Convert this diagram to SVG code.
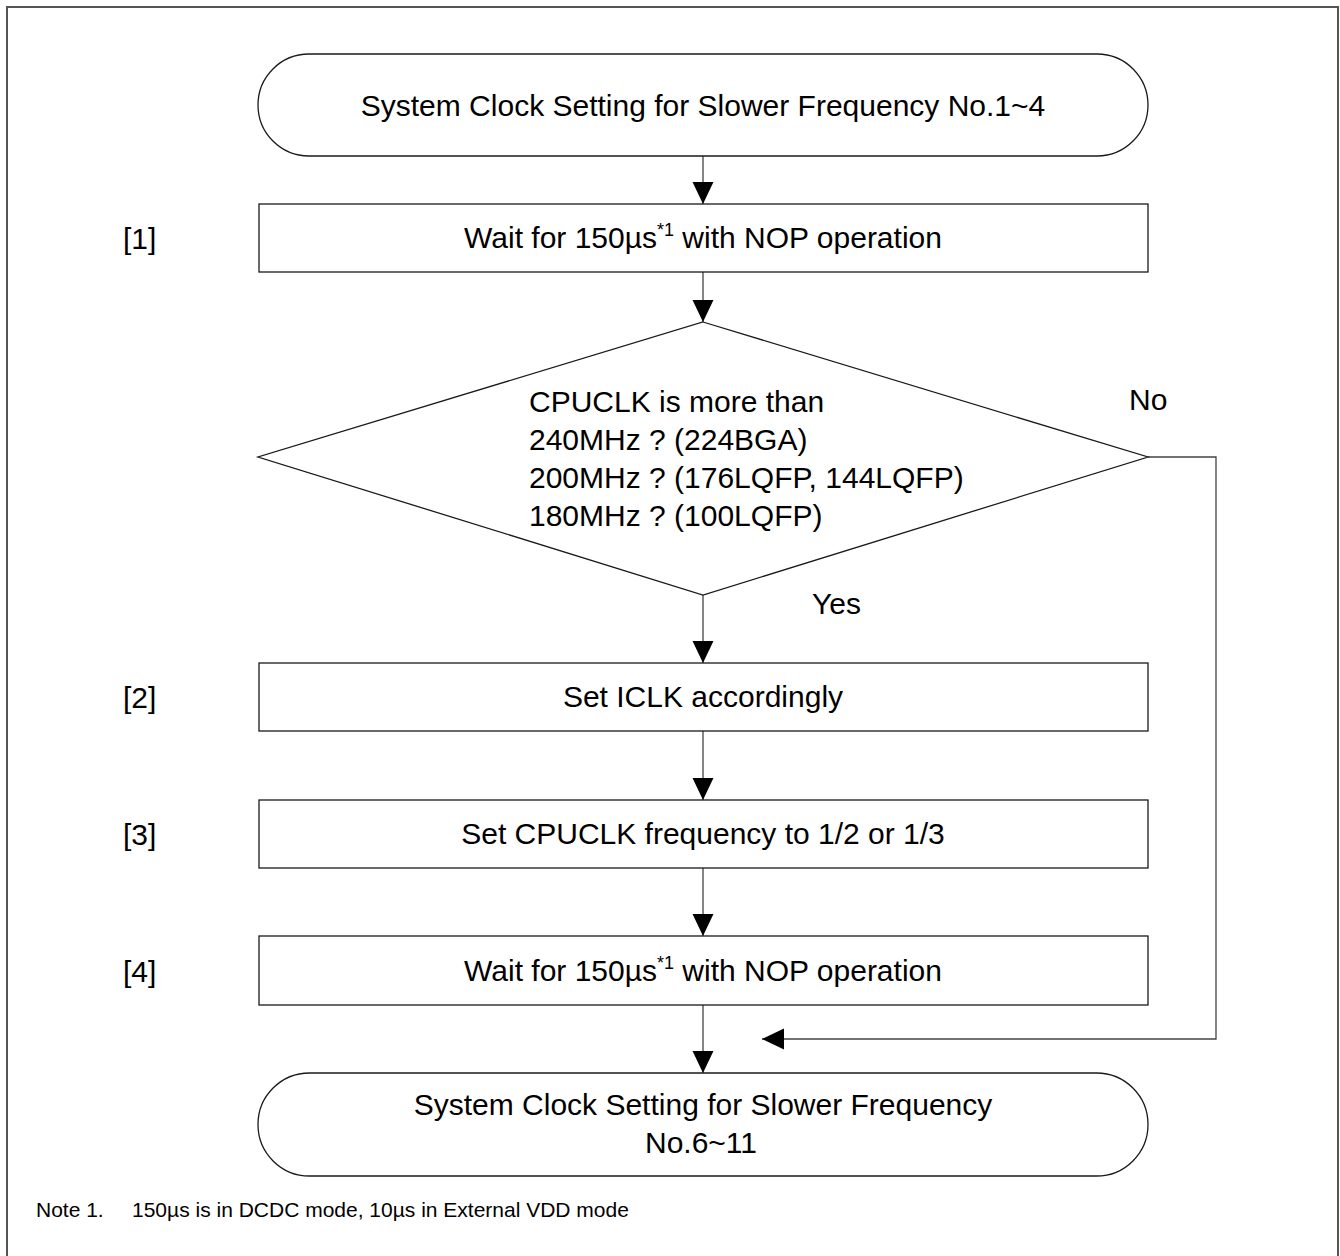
<svg xmlns="http://www.w3.org/2000/svg" width="1340" height="1256" viewBox="0 0 1340 1256">
<defs>
<style>
.t{font-family:"Liberation Sans",Arial,sans-serif;font-size:30px;fill:#000}
.c{text-anchor:middle}
.sh{fill:#fff;stroke:#1a1a1a;stroke-width:1.3}
.ln{fill:none;stroke:#444;stroke-width:1.3}
.note{font-family:"Liberation Sans",Arial,sans-serif;font-size:21px;fill:#000}
</style>
<marker id="ah" markerUnits="userSpaceOnUse" markerWidth="22" markerHeight="22" viewBox="0 0 21 20" refX="21" refY="10" orient="auto">
<path d="M0,0 L21,10 L0,20 z" fill="#000"/>
</marker>
</defs>
<rect x="0" y="0" width="1340" height="1256" fill="#fff"/>
<rect x="7" y="7" width="1331" height="1270" fill="none" stroke="#555" stroke-width="2"/>

<g id="connectors">
<line class="ln" x1="703" y1="156" x2="703" y2="204" marker-end="url(#ah)"/>
<line class="ln" x1="703" y1="272" x2="703" y2="322" marker-end="url(#ah)"/>
<line class="ln" x1="703" y1="595" x2="703" y2="663" marker-end="url(#ah)"/>
<line class="ln" x1="703" y1="731" x2="703" y2="800" marker-end="url(#ah)"/>
<line class="ln" x1="703" y1="868" x2="703" y2="936" marker-end="url(#ah)"/>
<line class="ln" x1="703" y1="1005" x2="703" y2="1073" marker-end="url(#ah)"/>
<polyline class="ln" points="1148,457 1216,457 1216,1039 762,1039" marker-end="url(#ah)"/>
<text class="t" x="1129" y="410">No</text>
<text class="t" x="812" y="614">Yes</text>
</g>

<g id="start">
<rect class="sh" x="258" y="54" width="890" height="102" rx="51" ry="51"/>
<text class="t c" x="703" y="116">System Clock Setting for Slower Frequency No.1~4</text>
</g>

<g id="step1">
<text class="t" x="123" y="249">[1]</text>
<rect class="sh" x="259" y="204" width="889" height="68"/>
<text class="t c" x="703" y="248">Wait for 150µs<tspan font-size="18" dy="-12">*1</tspan><tspan dy="12"> with NOP operation</tspan></text>
</g>

<g id="decision">
<polygon class="sh" points="703,322 1148,457 703,595 258,457"/>
<text class="t" x="529" y="412">CPUCLK is more than</text>
<text class="t" x="529" y="450">240MHz ? (224BGA)</text>
<text class="t" x="529" y="488">200MHz ? (176LQFP, 144LQFP)</text>
<text class="t" x="529" y="526">180MHz ? (100LQFP)</text>
</g>

<g id="step2">
<text class="t" x="123" y="708">[2]</text>
<rect class="sh" x="259" y="663" width="889" height="68"/>
<text class="t c" x="703" y="707">Set ICLK accordingly</text>
</g>

<g id="step3">
<text class="t" x="123" y="845">[3]</text>
<rect class="sh" x="259" y="800" width="889" height="68"/>
<text class="t c" x="703" y="844">Set CPUCLK frequency to 1/2 or 1/3</text>
</g>

<g id="step4">
<text class="t" x="123" y="982">[4]</text>
<rect class="sh" x="259" y="936" width="889" height="69"/>
<text class="t c" x="703" y="981">Wait for 150µs<tspan font-size="18" dy="-12">*1</tspan><tspan dy="12"> with NOP operation</tspan></text>
</g>

<g id="end">
<rect class="sh" x="258" y="1073" width="890" height="103" rx="51.5" ry="51.5"/>
<text class="t c" x="703" y="1115">System Clock Setting for Slower Frequency</text>
<text class="t c" x="701" y="1153">No.6~11</text>
</g>

<g id="note">
<text class="note" x="36" y="1217">Note 1.<tspan x="132">150µs is in DCDC mode, 10µs in External VDD mode</tspan></text>
</g>
</svg>
